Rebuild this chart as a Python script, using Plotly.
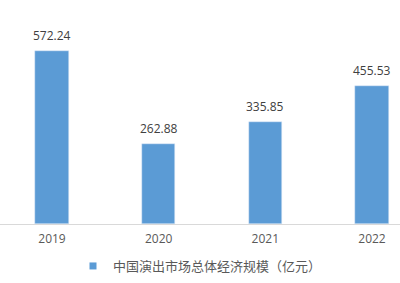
import plotly.graph_objects as go

years = ["2019", "2020", "2021", "2022"]
values = [572.24, 262.88, 335.85, 455.53]
value_labels = ["572.24", "262.88", "335.85", "455.53"]
series_name = "中国演出市场总体经济规模（亿元）"

bar_color = "#5b9bd5"
font_fam = "Open Sans, Noto Sans CJK SC, sans-serif"

xs = list(range(len(years)))
fig = go.Figure()
fig.add_trace(go.Bar(x=xs, y=values, name=series_name, marker_color=bar_color,
                     width=0.31, showlegend=False, legendgroup="s"))
# legend entry with a small square swatch
fig.add_trace(go.Scatter(x=[None], y=[None], mode="markers", name=series_name,
                         marker=dict(symbol="square", size=7, color=bar_color),
                         legendgroup="s", showlegend=True))
for x, v, t in zip(xs, values, value_labels):
    fig.add_annotation(x=x, y=v, text=t, showarrow=False, yanchor="bottom", yshift=5,
                       font=dict(size=12, color="#404040", family=font_fam))

fig.update_layout(
    width=400, height=283,
    margin=dict(l=0, r=0, t=0, b=0),
    plot_bgcolor="white", paper_bgcolor="white",
    bargap=0,
    font=dict(family=font_fam, size=12, color="#595959"),
    xaxis=dict(range=[-0.4875, 3.2625], tickmode="array", tickvals=xs, ticktext=years,
               showline=True, linecolor="#d9d9d9", linewidth=1, showgrid=False,
               ticks="", zeroline=False, automargin=False, ticklabelstandoff=4,
               tickfont=dict(size=12, color="#595959")),
    yaxis=dict(range=[0, 739.5], domain=[59 / 283, 1], visible=False,
               showgrid=False, zeroline=False),
    legend=dict(orientation="h", x=0.5, xanchor="center", y=17 / 283, yanchor="middle",
                font=dict(size=13, color="#595959", family="Noto Sans CJK SC, sans-serif"),
                itemwidth=30, bgcolor="rgba(0,0,0,0)"),
)
fig.write_html("out.html")
